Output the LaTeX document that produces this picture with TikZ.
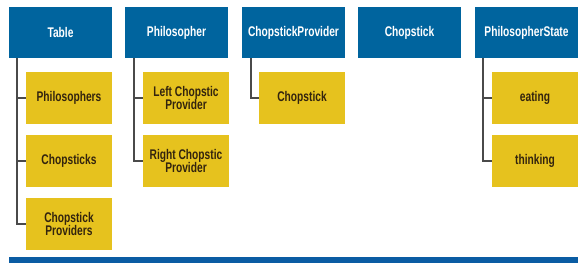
\documentclass[tikz,border=0pt]{standalone}
\usepackage{fontspec}
\setmainfont{Liberation Sans}[FakeStretch=0.73]
\definecolor{hdrblue}{HTML}{00649E}
\definecolor{barblue}{HTML}{0A5CA3}
\definecolor{itemyellow}{HTML}{E6C21E}
\definecolor{itemtext}{HTML}{33240E}
\definecolor{linegray}{HTML}{4A4A4A}
\begin{document}
\begin{tikzpicture}[x=1pt,y=-1pt,
  hdr/.style={fill=hdrblue,text=white,font=\bfseries\fontsize{14}{13.5}\selectfont,minimum width=103pt,minimum height=51pt,inner sep=0pt,align=center},
  item/.style={fill=itemyellow,text=itemtext,font=\bfseries\fontsize{14}{13.5}\selectfont,minimum width=86pt,minimum height=52pt,inner sep=0pt,align=center},
  conn/.style={draw=linegray,line width=1.3pt}]
\useasboundingbox (0,0) rectangle (583,267);
% headers
\node[hdr] (table) at (60.5,32.5) {Table};
\node[hdr] (phil) at (176.5,32.5) {Philosopher};
\node[hdr] (cprov) at (293.5,32.5) {ChopstickProvider};
\node[hdr] (chop) at (409.5,32.5) {Chopstick};
\node[hdr] (pstate) at (526.5,32.5) {PhilosopherState};
% items
\node[item] (t1) at (69,98) {Philosophers};
\node[item] (t2) at (69,161) {Chopsticks};
\node[item] (t3) at (69,224) {Chopstick\\Providers};
\node[item] (p1) at (186,98) {Left Chopstic\\Provider};
\node[item] (p2) at (186,161) {Right Chopstic\\Provider};
\node[item] (c1) at (302,98) {Chopstick};
\node[item] (s1) at (535,98) {eating};
\node[item] (s2) at (535,161) {thinking};
% connectors
\coordinate (tv) at (17,0);
\coordinate (pv) at (134,0);
\coordinate (cv) at (251,0);
\coordinate (sv) at (483,0);
\draw[conn] (table.south -| tv) |- (t3.west);
\draw[conn] (t1.west -| tv) -- (t1.west);
\draw[conn] (t2.west -| tv) -- (t2.west);
\draw[conn] (phil.south -| pv) |- (p2.west);
\draw[conn] (p1.west -| pv) -- (p1.west);
\draw[conn] (cprov.south -| cv) |- (c1.west);
\draw[conn] (pstate.south -| sv) |- (s2.west);
\draw[conn] (s1.west -| sv) -- (s1.west);
% bottom bar
\fill[barblue] (9,257) rectangle (578,263);
\end{tikzpicture}
\end{document}
